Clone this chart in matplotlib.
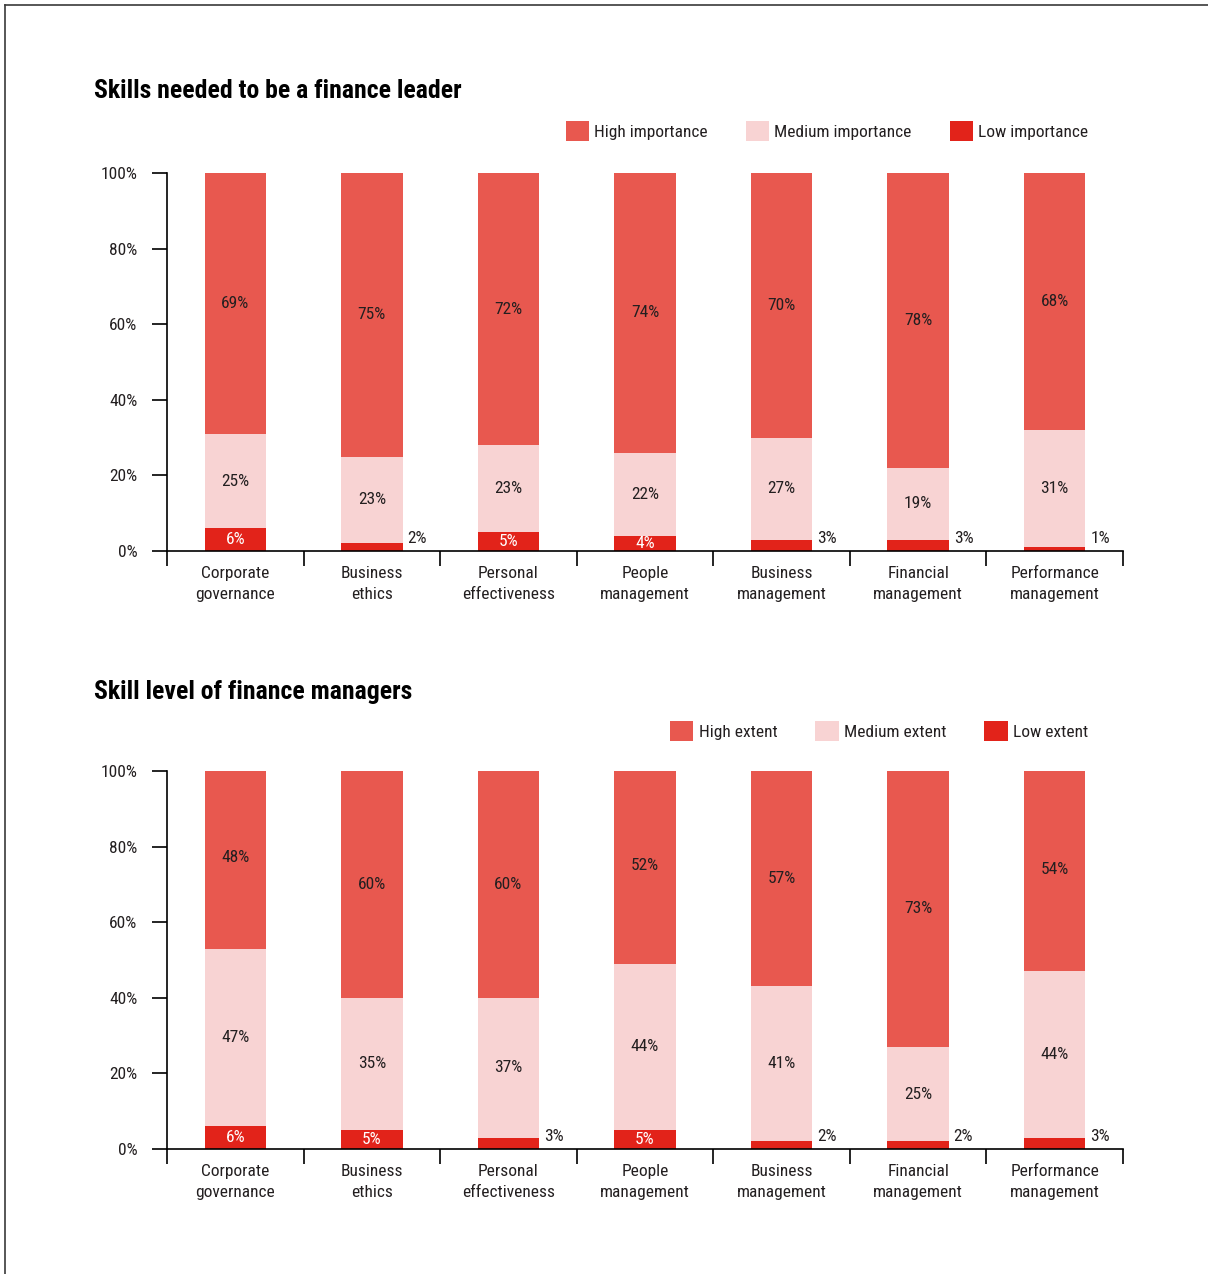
import numpy as np
import matplotlib
matplotlib.use("Agg")
import matplotlib.pyplot as plt
from matplotlib.patches import Patch
from matplotlib.lines import Line2D

plt.rcParams['font.family'] = ['Roboto Condensed', 'DejaVu Sans']

categories = ["Corporate\ngovernance", "Business\nethics", "Personal\neffectiveness",
              "People\nmanagement", "Business\nmanagement", "Financial\nmanagement",
              "Performance\nmanagement"]

# Skills needed to be a finance leader
leader_high = [69, 75, 72, 74, 70, 78, 68]
leader_medium = [25, 23, 23, 22, 27, 19, 31]
leader_low = [6, 2, 5, 4, 3, 3, 1]
leader_legend = ["High importance", "Medium importance", "Low importance"]

# Skill level of finance managers
managers_high = [48, 60, 60, 52, 57, 73, 54]
managers_medium = [47, 35, 37, 44, 41, 25, 44]
managers_low = [6, 5, 3, 5, 2, 2, 3]
managers_legend = ["High extent", "Medium extent", "Low extent"]

HIGH = "#E8584F"
MEDIUM = "#F8D3D3"
LOW = "#E2231A"
TEXT = "#231F20"
FS = 12.5

W, H = 1208, 1274
fig = plt.figure(figsize=(W / 100, H / 100), dpi=100)

# page frame (left and top edges)
fig.add_artist(Line2D([5 / W, 5 / W], [0, 1 - 5 / H], color="#3a3a3a", lw=1.2,
                      transform=fig.transFigure))
fig.add_artist(Line2D([5 / W, 1], [1 - 5 / H, 1 - 5 / H], color="#3a3a3a", lw=1.2,
                      transform=fig.transFigure))


def draw_panel(top_px, title, title_y_px, legend_y_px, legend_right_px,
               high, medium, low, names):
    ax = fig.add_axes([167 / W, 1 - (top_px + 378) / H, 956 / W, 378 / H])
    x = np.arange(len(categories))
    bw = 0.45
    low = np.array(low)
    medium = np.array(medium)
    high = np.array(high)
    ax.bar(x, low, bw, color=LOW, linewidth=0)
    ax.bar(x, medium, bw, bottom=low, color=MEDIUM, linewidth=0)
    ax.bar(x, high, bw, bottom=low + medium, color=HIGH, linewidth=0)

    for i in range(len(x)):
        ax.text(x[i], low[i] + medium[i] + high[i] / 2, f"{high[i]}%",
                ha="center", va="center", fontsize=FS, color=TEXT)
        ax.text(x[i], low[i] + medium[i] / 2, f"{medium[i]}%",
                ha="center", va="center", fontsize=FS, color=TEXT)
        if low[i] >= 4:
            ax.text(x[i], low[i] / 2, f"{low[i]}%", ha="center", va="center",
                    fontsize=FS, color="white")
        else:
            ax.text(x[i] + bw / 2 + 0.035, 3.4, f"{low[i]}%", ha="left",
                    va="center", fontsize=FS, color=TEXT)

    ax.set_xlim(-0.5, len(x) - 0.5)
    ax.set_ylim(0, 100)
    ax.set_yticks([0, 20, 40, 60, 80, 100])
    ax.set_yticklabels([f"{v}%" for v in [0, 20, 40, 60, 80, 100]])
    ax.set_xticks(x)
    ax.set_xticklabels(categories, linespacing=1.55)
    ax.set_xticks(np.arange(-0.5, len(x)), minor=True)
    ax.tick_params(axis="x", which="major", length=0, pad=10.5, labelsize=FS,
                   labelcolor=TEXT)
    ax.tick_params(axis="x", which="minor", length=10.8, width=1.2,
                   direction="out", color="black")
    ax.tick_params(axis="y", length=10.8, width=1.2, pad=10.5, labelsize=FS,
                   labelcolor=TEXT, color="black")
    for s in ["top", "right"]:
        ax.spines[s].set_visible(False)
    for s in ["left", "bottom"]:
        ax.spines[s].set_linewidth(1.2)

    fig.text(94 / W, 1 - title_y_px / H, title, fontsize=18.5, fontweight="bold",
             color="black", ha="left", va="center")

    handles = [Patch(facecolor=c, edgecolor="none") for c in (HIGH, MEDIUM, LOW)]
    fig.legend(handles, names, ncol=3, frameon=False, fontsize=FS,
               loc="center right",
               bbox_to_anchor=(legend_right_px / W, 1 - legend_y_px / H),
               bbox_transform=fig.transFigure, borderpad=0, borderaxespad=0,
               handlelength=1.33, handleheight=1.33, handletextpad=0.3,
               columnspacing=2.2, labelcolor=TEXT)
    return ax


draw_panel(173, "Skills needed to be a finance leader", 91, 131, 1088,
           leader_high, leader_medium, leader_low, leader_legend)
draw_panel(771, "Skill level of finance managers", 692, 731, 1088,
           managers_high, managers_medium, managers_low, managers_legend)

fig.savefig("out.png", dpi=100)
